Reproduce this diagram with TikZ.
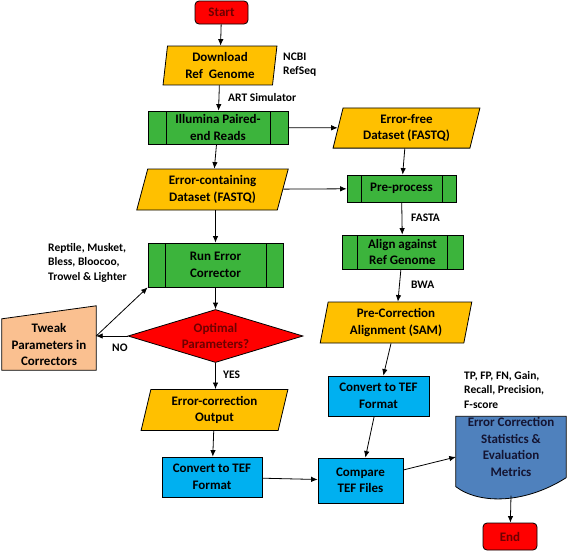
\documentclass[tikz,border=0pt]{standalone}
\usepackage{fontspec}
\setmainfont{Carlito}
\usetikzlibrary{shapes.geometric,backgrounds,arrows.meta}
\definecolor{boxgold}{RGB}{255,192,0}
\definecolor{procgreen}{RGB}{60,180,60}
\definecolor{convblue}{RGB}{0,176,240}
\definecolor{docblue}{RGB}{79,129,189}
\definecolor{tweakpeach}{RGB}{250,192,144}
\definecolor{termred}{RGB}{255,0,0}
\definecolor{textred}{RGB}{110,0,0}
\begin{document}
\begin{tikzpicture}[x=1pt,y=-1pt,>={Latex[length=6.5pt,width=5.5pt]},
  every node/.style={inner sep=0pt, align=center, font=\bfseries\fontsize{13}{16.5}\selectfont},
  base/.style={draw=black, line width=0.8pt},
  term/.style={base, fill=termred, rounded corners=4pt, text=textred},
  data/.style={base, fill=boxgold, trapezium, trapezium left angle=#1, trapezium right angle={180-#1}},
  predef/.style={base, fill=procgreen, path picture={
    \draw[line width=0.8pt] ([xshift=#1]path picture bounding box.north west) -- ([xshift=#1]path picture bounding box.south west)
      ([xshift=-#1]path picture bounding box.north east) -- ([xshift=-#1]path picture bounding box.south east);}},
  conv/.style={base, fill=convblue},
  decision/.style={base, fill=termred, diamond, aspect=3.3, text=textred},
  note/.style={anchor=west, align=left, font=\bfseries\fontsize{11.5}{14.5}\selectfont},
  arr/.style={->, line width=0.8pt}]
\useasboundingbox (0,0) rectangle (567,552);

\node[term, minimum width=53pt, minimum height=23pt] (start) at (221.5,12.5) {Start};
\node[data=83.5, minimum width=114pt, minimum height=35pt] (download) at (220,65.5) {Download\\Ref~ Genome};
\node[predef=18pt, minimum width=140pt, minimum height=33pt] (reads) at (218,127.5) {Illumina Paired-\\end Reads};
\node[data=76, minimum width=147pt, minimum height=40pt] (cleanset) at (406.5,128) {Error-free\\Dataset (FASTQ)};
\node[data=75, minimum width=151pt, minimum height=41pt] (errset) at (212.5,189.5) {Error-containing\\Dataset (FASTQ)};
\node[predef=14pt, minimum width=109pt, minimum height=27pt] (preproc) at (401.5,188.5) {Pre-process};
\node[predef=15.5pt, minimum width=121pt, minimum height=34pt] (align) at (402.5,252) {Align against\\Ref Genome};
\node[predef=17pt, minimum width=135pt, minimum height=44pt] (runec) at (215.5,265) {Run Error\\Corrector};
\node[data=79, minimum width=148pt, minimum height=41pt] (prealign) at (396,322.5) {Pre-Correction\\Alignment (SAM)};
\node[decision, minimum width=175pt, minimum height=53pt] (optimal) at (215.5,336) {Optimal\\Parameters?};
\node[minimum width=94pt, minimum height=51pt] (tweak) at (49,344.5) {Tweak\\Parameters in\\Correctors};
\node[conv, minimum width=101pt, minimum height=40pt] (tefB) at (378.5,396) {Convert to TEF\\Format};
\node[data=76.6, minimum width=147pt, minimum height=40pt] (ecout) at (214.5,410) {Error-correction\\Output};
\node[conv, minimum width=100pt, minimum height=40pt] (tefA) at (212,477) {Convert to TEF\\Format};
\node[conv, minimum width=85pt, minimum height=45pt] (compare) at (360.5,480.5) {Compare\\TEF Files};
\node[minimum width=110pt, minimum height=61pt, text={rgb,255:red,20;green,20;blue,50}] (metrics) at (511,447) {Error Correction\\Statistics \&\\Evaluation\\Metrics};
\node[term, minimum width=54pt, minimum height=27pt] (end) at (510,536.5) {End};

\begin{scope}[on background layer]
\filldraw[base, fill=tweakpeach] (tweak.south west) -- (tweak.north west) -- ([yshift=13pt]tweak.north east) -- (tweak.south east) -- cycle;
\filldraw[base, fill=docblue] (metrics.south east) -- (metrics.north east) -- (metrics.north west) -- ([yshift=-9pt]metrics.south west)
  .. controls +(24,18) and +(-41,26) .. (metrics.south east);
\end{scope}
\coordinate (metricsout) at ([yshift=-18pt]metrics.south);

\node[note] (ncbi) at (283,64.5) {NCBI\\RefSeq};
\node[note] (art) at (228,98) {ART Simulator};
\node[note] (fasta) at (411,218) {FASTA};
\node[note] (bwa) at (411,285) {BWA};
\node[note] (tools) at (48,262.5) {Reptile, Musket,\\Bless, Bloocoo,\\Trowel \& Lighter};
\node[note] (no) at (112,348) {NO};
\node[note] (yes) at (223,375) {YES};
\node[note] (metriclist) at (464,389.5) {TP, FP, FN, Gain,\\Recall, Precision,\\F-score};

\draw[arr] (start) -- (download);
\draw[arr] (download) -- (reads);
\draw[arr] (reads) -- (errset);
\draw[arr] (reads) -- (cleanset);
\draw[arr] (cleanset) -- (preproc);
\draw[arr] (errset) -- (preproc);
\draw[arr] (runec.north |- errset.south) -- (runec.north);
\draw[arr] (preproc) -- (align);
\draw[arr] (align) -- (prealign);
\draw[arr] (runec) -- (optimal);
\draw[arr] (optimal.west) -- (optimal.west -| tweak.east) coordinate (tweakin);
\draw[arr] (tweakin) -- (runec.south west);
\draw[arr] (optimal.south) -- (optimal.south |- ecout.north);
\draw[arr] (ecout) -- (tefA);
\draw[arr] (prealign) -- (tefB);
\draw[arr] (tefB) -- (compare);
\draw[arr] (tefA) -- (compare);
\draw[arr] (compare) -- ([yshift=-10pt]metrics.west);
\draw[arr] (metricsout) -- (end);
\end{tikzpicture}
\end{document}
